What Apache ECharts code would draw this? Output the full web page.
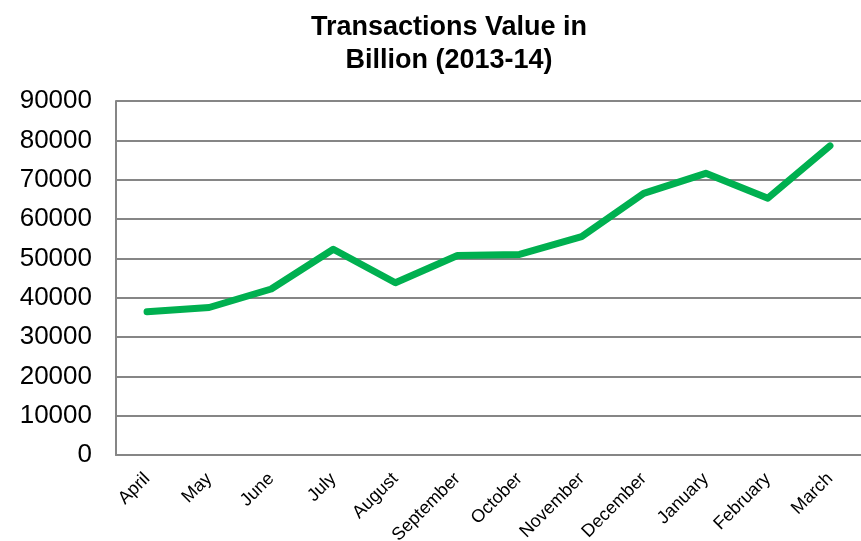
<!DOCTYPE html>
<html>
<head>
<meta charset="utf-8">
<script src="https://cdn.jsdelivr.net/npm/echarts@6/dist/echarts.min.js"></script>
<style>
  html, body { margin: 0; padding: 0; background: #fff; }
  #main { width: 861px; height: 541px; }
</style>
</head>
<body>
<div id="main"></div>
<script>
var months = ['April', 'May', 'June', 'July', 'August', 'September', 'October',
  'November', 'December', 'January', 'February', 'March'];
var txnValue = [36400, 37500, 42200, 52300, 43800, 50700, 51000, 55500, 66500, 71600, 65300, 78600];
var yTicks = [0, 90000, 10000]; // min, max, step

var chart = echarts.init(document.getElementById('main'));

var option = {
  animation: false,
  title: {
    text: 'Transactions Value in\nBillion (2013-14)',
    left: 444,
    top: 6,
    textAlign: 'center',
    textStyle: {
      fontFamily: 'Liberation Sans',
      fontSize: 27,
      fontWeight: 'bold',
      color: '#000',
      lineHeight: 33
    }
  },
  grid: {
    left: 116,
    right: 0,
    top: 101,
    bottom: 86,
    outerBoundsMode: 'none'
  },
  xAxis: {
    type: 'category',
    data: months,
    boundaryGap: true,
    axisLine: { lineStyle: { color: '#868686', width: 2 } },
    axisTick: { show: false },
    axisLabel: {
      rotate: 45,
      margin: 21,
      interval: 0,
      fontFamily: 'Liberation Sans',
      fontSize: 18,
      color: '#000'
    }
  },
  yAxis: {
    type: 'value',
    min: yTicks[0],
    max: yTicks[1],
    interval: yTicks[2],
    axisLine: { show: true, lineStyle: { color: '#868686', width: 2 } },
    axisTick: { show: false },
    splitLine: { lineStyle: { color: '#868686', width: 2 } },
    axisLabel: {
      margin: 24,
      fontFamily: 'Liberation Sans',
      fontSize: 26,
      color: '#000',
      formatter: function (v) { return String(v); }
    }
  },
  series: [{
    name: 'Transactions Value',
    type: 'line',
    data: txnValue,
    showSymbol: false,
    symbol: 'none',
    lineStyle: { color: '#00B050', width: 7, cap: 'round', join: 'round' }
  }]
};

chart.setOption(option);
</script>
</body>
</html>
